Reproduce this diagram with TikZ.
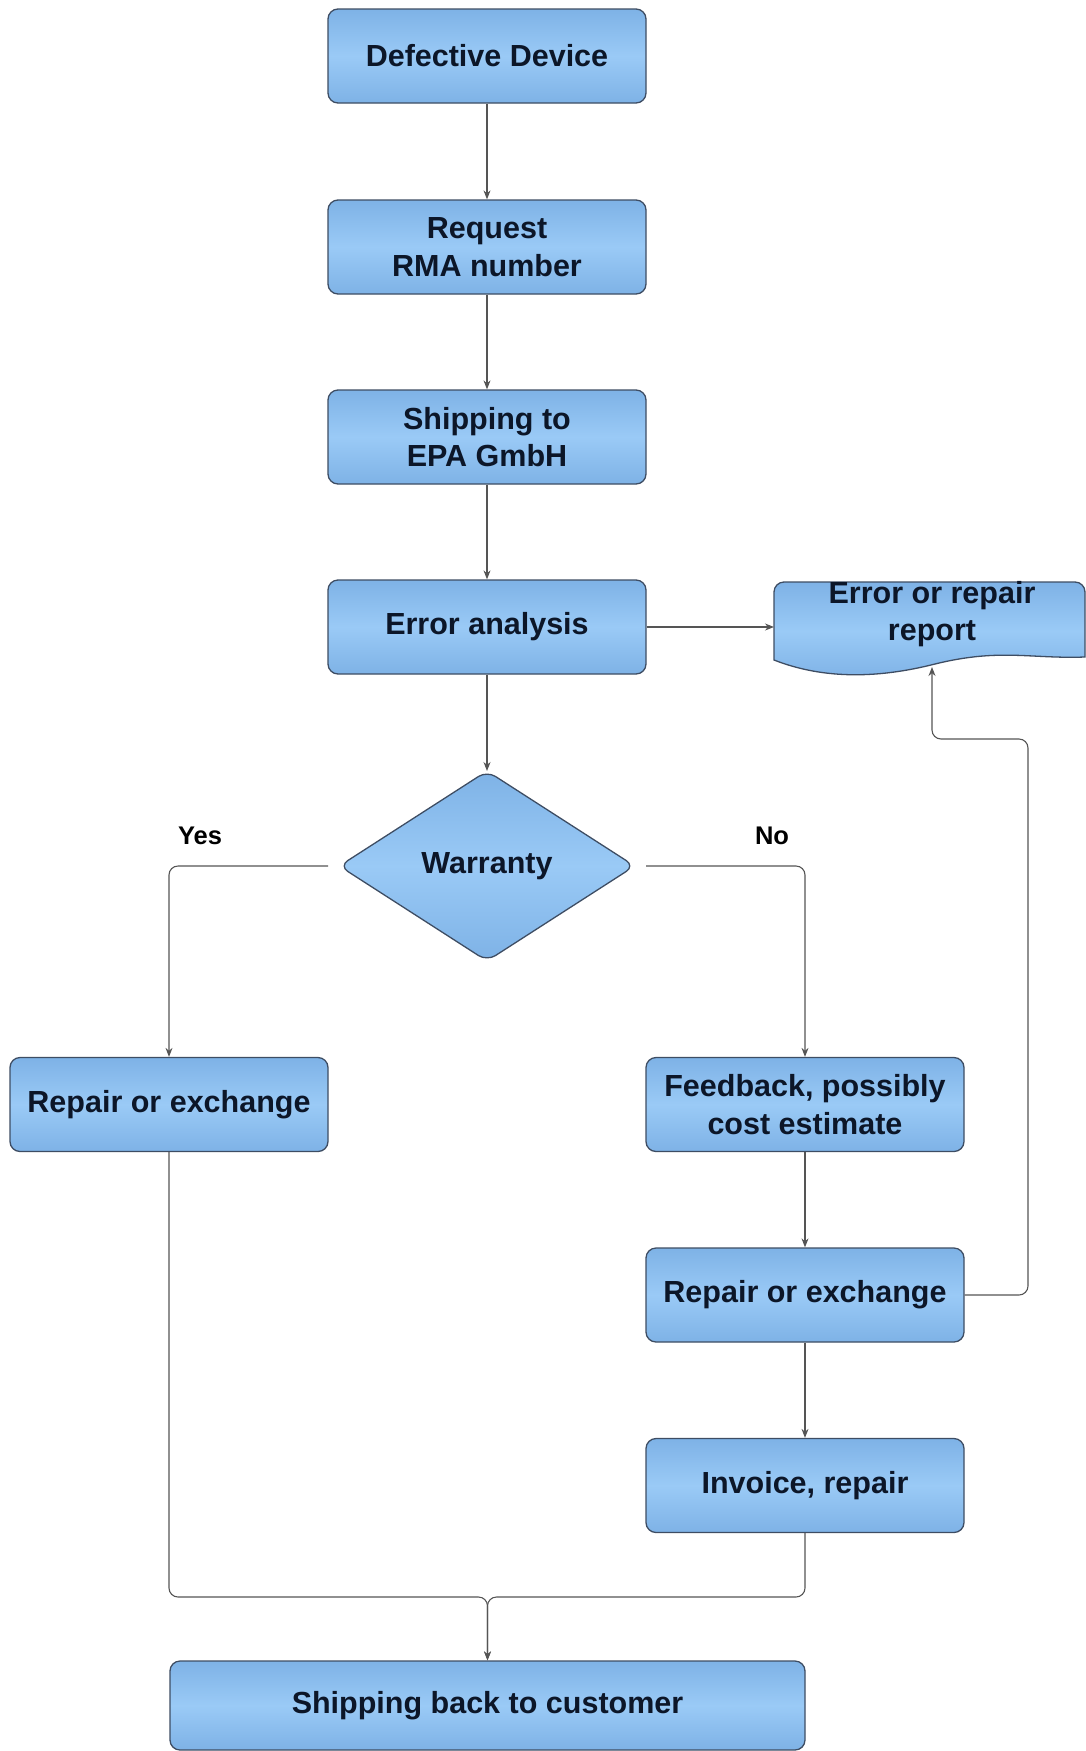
\documentclass[tikz,border=0pt]{standalone}
\usepackage{fontspec}
\setmainfont{Liberation Sans}
\usetikzlibrary{shapes.geometric,arrows.meta}
\definecolor{bEdge}{HTML}{3E4D63}
\definecolor{bTop}{HTML}{7EB2E6}
\definecolor{bMid}{HTML}{9ACAF6}
\definecolor{txt}{HTML}{0C1628}
\definecolor{lineC}{HTML}{555555}
\tikzset{
  boxfill/.style={draw=bEdge, line width=1.3pt, top color=bTop, bottom color=bTop, middle color=bMid},
  procbox/.style={boxfill, rounded corners=10pt, minimum width=318pt, minimum height=94pt,
    inner sep=0pt, align=center, text=txt, font=\fontsize{30.5}{37.5}\selectfont\bfseries},
  decbox/.style={boxfill, diamond, rounded corners=10pt, minimum width=302pt, minimum height=190pt,
    inner sep=0pt, outer xsep=8pt, outer ysep=0pt, align=center, text=txt, font=\fontsize{30.5}{37.5}\selectfont\bfseries},
  plaintxt/.style={align=center, text=txt, inner sep=0pt, font=\fontsize{30.5}{37.5}\selectfont\bfseries},
  lbl/.style={text=black, inner sep=0pt, font=\fontsize{25.5}{29}\selectfont\bfseries},
  conn/.style={draw=lineC, line width=1.1pt, -{Stealth[length=9pt,width=7pt]}, rounded corners=9pt},
}
\begin{document}
\begin{tikzpicture}[x=1pt,y=-1pt]
\useasboundingbox (0,0) rectangle (1085,1751);

\node[procbox] (dd)   at (487,56)    {Defective Device};
\node[procbox] (rma)  at (487,247) {Request\\RMA number};
\node[procbox] (ship) at (487,437) {Shipping to\\EPA GmbH};
\node[procbox] (ea)   at (487,627) {Error analysis};
\node[decbox]  (war)  at (487,866)   {Warranty};
\node[procbox] (rl)   at (169,1104.5)  {Repair or exchange};
\node[procbox] (fb)   at (805,1104.5)  {Feedback, possibly\\cost estimate};
\node[procbox] (rr)   at (805,1295){Repair or exchange};
\node[procbox] (inv)  at (805,1485.5)  {Invoice, repair};
\node[procbox, minimum width=635pt, minimum height=89pt] (back) at (487.5,1705.5) {Shipping back to customer};

% document shape: error or repair report
\path[boxfill] (774,660) [rounded corners=10pt] -- (774,582) -- (1085,582) [sharp corners] -- (1085,657)
  .. controls (1030,659) and (1000,648) .. (935,664)
  .. controls (880,678) and (825,680) .. (774,660) -- cycle;
\node[plaintxt] (rep) at (932,614) {Error or repair\\report};
\coordinate (repl) at (774,627);
\coordinate (repb) at (932,667);

% connectors
\draw[conn] (dd.south) -- (rma.north);
\draw[conn] (rma.south) -- (ship.north);
\draw[conn] (ship.south) -- (ea.north);
\draw[conn] (ea.south) -- (war.north);
\draw[conn] (ea.east) -- (repl);
\draw[conn] (war.west) -| (rl.north);
\draw[conn] (war.east) -| (fb.north);
\draw[conn] (fb.south) -- (rr.north);
\draw[conn] (rr.south) -- (inv.north);
\draw[conn] (rr.east) -- (1028,1295) -- (1028,739) -- (932,739) -- (repb);
\coordinate (m) at (487.5,1597);
\draw[conn] (rl.south) |- (m) -- (back.north);
\draw[conn] (inv.south) |- (m) -- (back.north);

\node[lbl] (yes) at (200,836) {Yes};
\node[lbl] (no)  at (772,836) {No};
\end{tikzpicture}
\end{document}
